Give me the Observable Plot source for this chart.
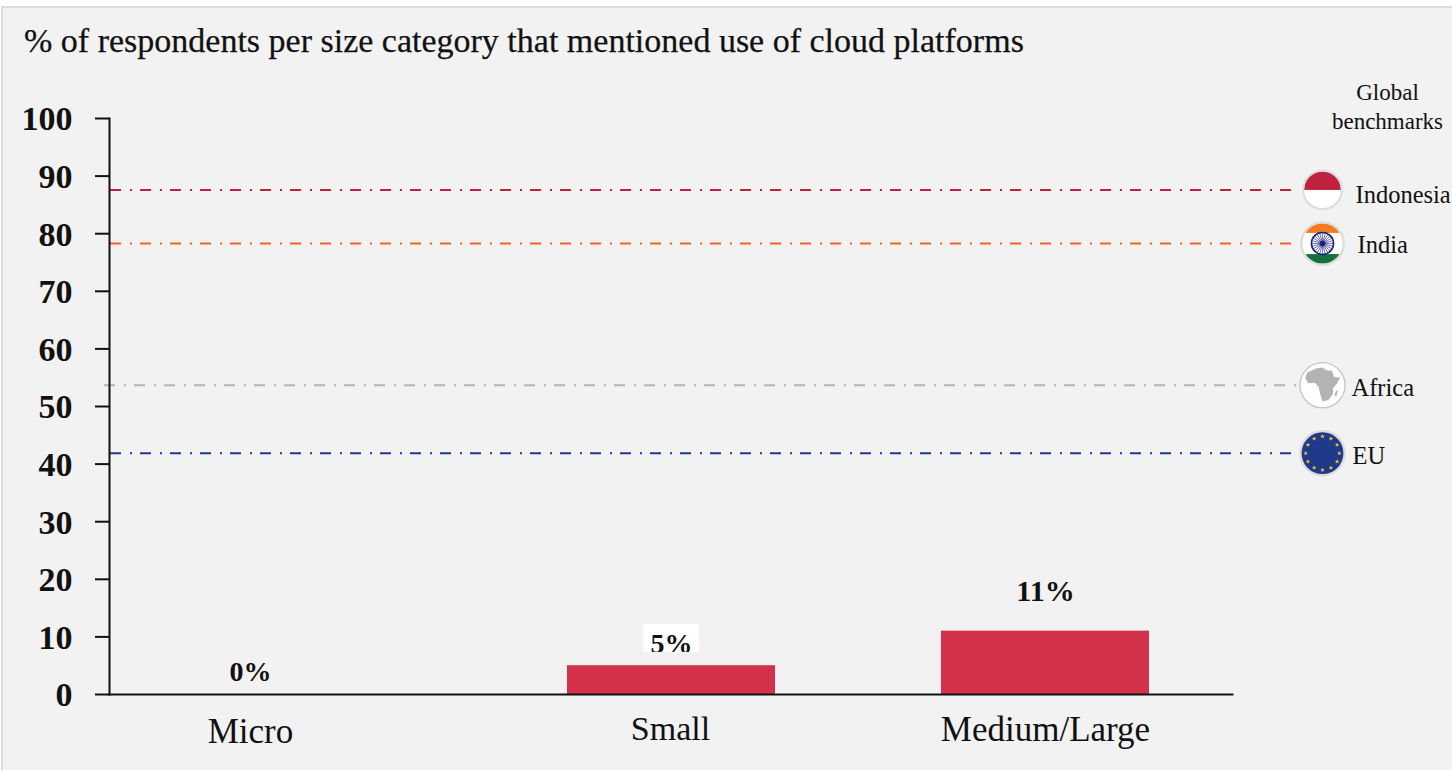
<!DOCTYPE html>
<html><head><meta charset="utf-8">
<script src="https://cdn.jsdelivr.net/npm/d3@7"></script>
<script src="https://cdn.jsdelivr.net/npm/@observablehq/plot@0.6"></script>
<style>
html,body{margin:0;padding:0;background:#fff;overflow:hidden}
#panel{position:absolute;left:1px;top:6px;width:1451px;height:764px;background:#f2f2f2;border-top:2px solid #dcdcdc;border-left:2px solid #dcdcdc;box-sizing:border-box}
#title{position:absolute;left:24px;top:22px;font:34px "Liberation Serif",serif;color:#111;white-space:nowrap;-webkit-text-stroke:.25px #111}
#chart{position:absolute;left:0;top:80px}
</style></head><body>
<div id="panel"></div>
<div id="title">% of respondents per size category that mentioned use of cloud platforms</div>
<div id="chart"></div>
<script>
const categories = ["Micro", "Small", "Medium/Large"];
const shares = [0, 5, 11];
const shareLabels = ["0%", "5%", "11%"];
const yTicks = [0, 10, 20, 30, 40, 50, 60, 70, 80, 90, 100];
const benchmarkNames = ["Indonesia", "India", "Africa", "EU"];
const benchmarkValues = [87.6, 78.3, 53.7, 41.9];
const benchmarkColors = ["#c0213c", "#f4641c", "#b5b5b5", "#1f3a8a"];
const serif = '"Liberation Serif",serif';
const ink = "#111";

const uri = s => "data:image/svg+xml;utf8," + encodeURIComponent(s);
const wrap = inner => `<svg xmlns="http://www.w3.org/2000/svg" viewBox="0 0 100 100"><defs><clipPath id="c"><circle cx="50" cy="50" r="44"/></clipPath></defs>${inner}</svg>`;
const ring = c => `<circle cx="50" cy="50" r="46" fill="none" stroke="${c}" stroke-width="5"/>`;
const spokes = d3.range(24).map(i => `<line x1="50" y1="50" x2="50" y2="27" stroke="#1a237e" stroke-width="1.3" transform="rotate(${i * 15} 50 50)"/>`).join("");
const stars = d3.range(12).map(i => `<g transform="rotate(${i * 30} 50 50) translate(50 15) rotate(${-i * 30})"><path d="M0-4.6l1.3 3 3.3.2-2.5 2.1.8 3.2-2.9-1.8-2.9 1.8.8-3.2-2.5-2.1 3.3-.2z" fill="#f2c230"/></g>`).join("");
const flags = {
  Indonesia: wrap(`<circle cx="50" cy="50" r="46" fill="#fff"/><g clip-path="url(#c)"><rect width="100" height="50" fill="#c0213c"/></g>${ring("#dcdcdc")}`),
  India: wrap(`<circle cx="50" cy="50" r="46" fill="#fff"/><g clip-path="url(#c)"><rect width="100" height="27" fill="#f47a20"/><rect y="73" width="100" height="27" fill="#14713a"/></g>${ring("#dcdcdc")}<circle cx="50" cy="50" r="24" fill="none" stroke="#1a237e" stroke-width="3.5"/>${spokes}<circle cx="50" cy="50" r="6" fill="#1a237e"/>`),
  Africa: wrap(`<circle cx="50" cy="50" r="46" fill="#fff"/><path d="M36 15 L50 13 L58 19 L70 20 L74 33 L87 34 L80 47 L72 56 L72 68 L62 81 L50 84 L45 68 L42 54 L34 45 L20 46 L14 35 L18 24 Z" fill="#b3b3b3"/><path d="M78 62 L82 60 L79 73 L75 72 Z" fill="#b3b3b3"/><circle cx="50" cy="50" r="47" fill="none" stroke="#c8c8c8" stroke-width="3"/>`),
  EU: wrap(`<circle cx="50" cy="50" r="46" fill="#1f3a8a"/>${stars}${ring("#dcdcdc")}`)
};
const flagSizes = [42, 46, 48, 48];
const flagDx = [90, 90, 90, 90];
const labelDx = [123, 125, 119, 120];
const labelDy = [5, 2, 3, 3];

const rows = categories.map((c, i) => ({c, v: shares[i], t: shareLabels[i]}));
const bench = benchmarkNames.map((n, i) => ({n, v: benchmarkValues[i], col: benchmarkColors[i], src: uri(flags[n]), size: flagSizes[i], dx: flagDx[i], ldx: labelDx[i], ldy: labelDy[i]}));

const tickStyle = {fontFamily: serif, fill: ink};
const plot = Plot.plot({
  width: 1452, height: 690,
  marginTop: 38, marginBottom: 76, marginLeft: 109, marginRight: 220,
  style: {background: "transparent", overflow: "visible"},
  x: {domain: categories, axis: null, paddingInner: 0.444, paddingOuter: 0.222},
  y: {domain: [0, 100], axis: null},
  marks: [
    Plot.barY(rows, {x: "c", y: "v", fill: "#d33049"}),
    ...bench.map(b => Plot.ruleY([b.v], {stroke: b.col, strokeWidth: 2, strokeDasharray: "11 9 2 8", insetLeft: b.n === "Africa" ? -5 : 1, insetRight: -66})),
    Plot.axisY({ticks: yTicks, tickSize: 0, tickPadding: 37, dy: 1, fontSize: 34, fontWeight: "bold", fontFamily: serif, color: ink, label: null, tickFormat: d => String(d)}),
    Plot.axisY({ticks: yTicks, tickSize: 14, fill: "none", stroke: ink, strokeWidth: 2, label: null, tickFormat: () => ""}),
    Plot.frame({anchor: "left", stroke: ink, strokeWidth: 2}),
    Plot.frame({anchor: "bottom", stroke: ink, strokeWidth: 2}),
    Plot.barY(["Small"], {x: d => d, y1: 7.3, y2: 12.15, fill: "#fff", insetLeft: 76, insetRight: 76}),
    ...rows.map((r, i) => Plot.text([r], {x: "c", y: "v", text: "t", ...tickStyle, fontSize: i === 2 ? 30 : 28, fontWeight: "bold", dx: i === 0 ? -47 : 0, dy: i === 2 ? -40 : -22})),
    Plot.barY(["Small"], {x: d => d, y1: 5.5, y2: 7.3, fill: "#f2f2f2", insetLeft: 70, insetRight: 70}),
    ...rows.map((r, i) => Plot.text([r], {x: "c", y: 0, text: "c", ...tickStyle, fontSize: i === 1 ? 34 : 35, dx: i === 0 ? -47 : i === 1 ? -1 : 0, dy: i === 0 ? 37 : 35})),
    ...bench.map(b => Plot.image([b], {y: "v", frameAnchor: "right", dx: b.dx, src: "src", width: b.size, height: b.size})),
    ...bench.map(b => Plot.text([b], {y: "v", frameAnchor: "right", dx: b.ldx, dy: b.ldy, text: "n", textAnchor: "start", ...tickStyle, fontSize: 24.5})),
    Plot.text(["Global\nbenchmarks"], {frameAnchor: "top-right", dx: 155, dy: -39, text: d => d, lineHeight: 1.26, textAnchor: "middle", ...tickStyle, fontSize: 23})
  ]
});
document.getElementById("chart").append(plot);
</script>
</body></html>
